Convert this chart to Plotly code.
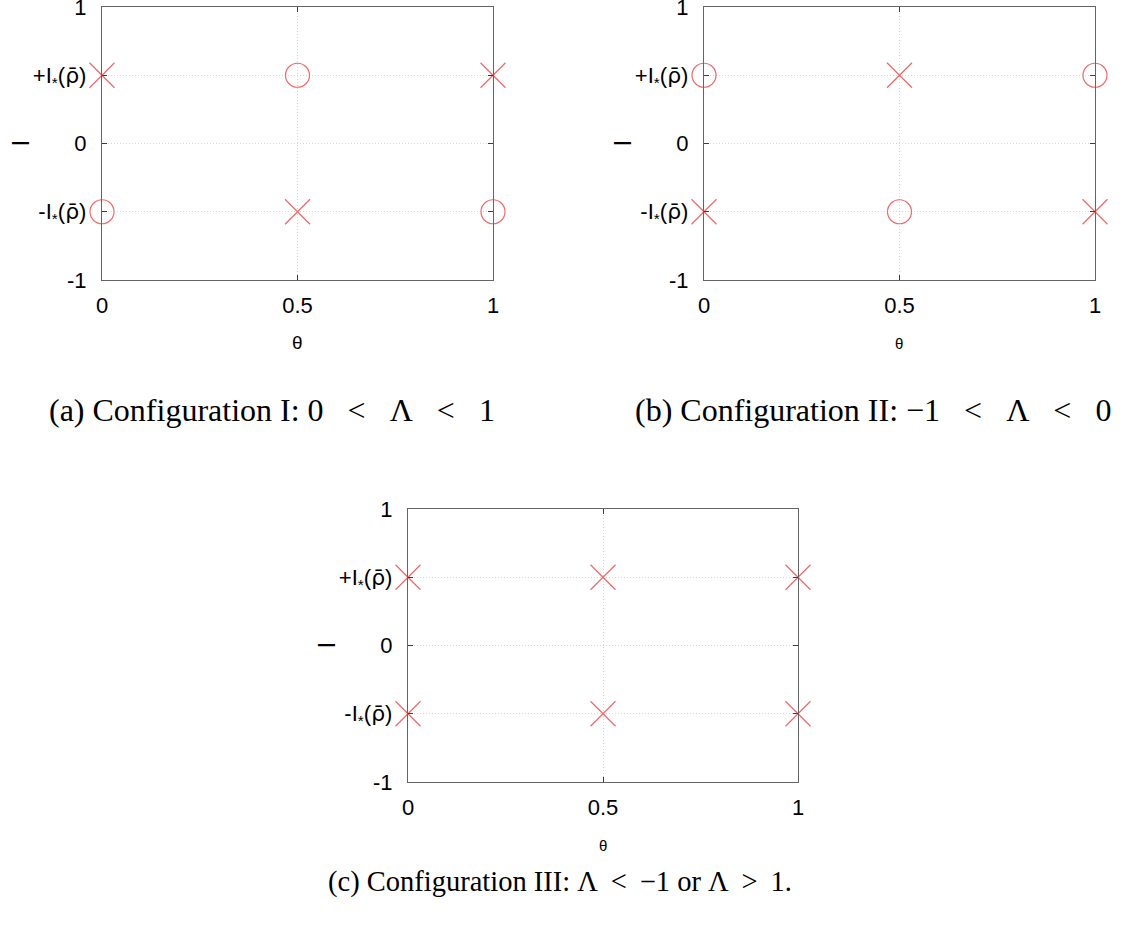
import plotly.graph_objects as go

# Level of the two fixed points on the I axis, in units of the axis range
I_STAR = 0.5

theta_ticks = [0, 0.5, 1]
theta_ticktext = ["0", "0.5", "1"]
RHO_BAR = "<span style='font-family:DejaVu Sans'>ρ\u0304</span>"
i_ticks = [-1, -I_STAR, 0, I_STAR, 1]
i_ticktext = ["-1", "-I<sub>*</sub>(" + RHO_BAR + ")", "0", "+I<sub>*</sub>(" + RHO_BAR + ")", "1"]

# Configuration I: 0 < Λ < 1
cfg1_cross_theta = [0, 1, 0.5]
cfg1_cross_i = [I_STAR, I_STAR, -I_STAR]
cfg1_circle_theta = [0.5, 0, 1]
cfg1_circle_i = [I_STAR, -I_STAR, -I_STAR]

# Configuration II: -1 < Λ < 0
cfg2_cross_theta = [0.5, 0, 1]
cfg2_cross_i = [I_STAR, -I_STAR, -I_STAR]
cfg2_circle_theta = [0, 1, 0.5]
cfg2_circle_i = [I_STAR, I_STAR, -I_STAR]

# Configuration III: Λ < -1 or Λ > 1
cfg3_cross_theta = [0, 0.5, 1, 0, 0.5, 1]
cfg3_cross_i = [I_STAR, I_STAR, I_STAR, -I_STAR, -I_STAR, -I_STAR]
cfg3_circle_theta = []
cfg3_circle_i = []

SP = "\u2002 "   # wide gap around relations
SPT = "\u2009 "  # narrower gap
captions = [
    "(a) Configuration I: 0" + SP + "&lt;" + SP + "Λ" + SP + "&lt;" + SP + "1",
    "(b) Configuration II: −1" + SP + "&lt;" + SP + "Λ" + SP + "&lt;" + SP + "0",
    "(c) Configuration III: Λ" + SPT + "&lt;" + SPT + "−1 or Λ" + SPT + "&gt;" + SPT + "1.",
]

MARK = "rgb(240,105,105)"
W, H = 1122, 936
SANS = "Liberation Sans, Arial, sans-serif"

# panel boxes in pixels: left, right, top, bottom
panels = [
    (102, 493, 7, 280),
    (704, 1095, 7, 280),
    (408, 798, 509, 782),
]
data = [
    (cfg1_cross_theta, cfg1_cross_i, cfg1_circle_theta, cfg1_circle_i),
    (cfg2_cross_theta, cfg2_cross_i, cfg2_circle_theta, cfg2_circle_i),
    (cfg3_cross_theta, cfg3_cross_i, cfg3_circle_theta, cfg3_circle_i),
]
caption_pos = [(272, 410), (873, 410), (560, 882)]
caption_size = [32, 32, 28.5]
theta_title = [(19, 62), (15, 63), (15, 63)]  # font size, offset below the frame

fig = go.Figure()
tick_font = dict(family=SANS, size=22, color="black")

for k, ((l, r, t, b), (xt, yt, xc, yc)) in enumerate(zip(panels, data)):
    n = "" if k == 0 else str(k + 1)
    xa, ya = "x" + n, "y" + n
    fig.add_trace(go.Scatter(
        x=xt, y=yt, xaxis=xa, yaxis=ya, mode="markers", cliponaxis=False,
        marker=dict(symbol="x-thin-open", size=25, color=MARK,
                    line=dict(color=MARK, width=1.2)),
        showlegend=False, hoverinfo="skip"))
    if xc:
        fig.add_trace(go.Scatter(
            x=xc, y=yc, xaxis=xa, yaxis=ya, mode="markers", cliponaxis=False,
            marker=dict(symbol="circle-open", size=24, color=MARK,
                        line=dict(color=MARK, width=1.2)),
            showlegend=False, hoverinfo="skip"))

    axis_common = dict(
        showline=True, linecolor="rgb(100,100,100)", linewidth=1.3, mirror="allticks",
        ticks="inside", ticklen=5, tickcolor="rgb(60,60,60)", tickwidth=1,
        showgrid=True, gridcolor="rgb(215,215,215)", griddash="1px,2px", gridwidth=1,
        zeroline=False, tickfont=tick_font, fixedrange=True, automargin=False,
        ticklabeloverflow="allow",
    )
    fig.update_layout(**{
        ("xaxis" + n): dict(
            axis_common, domain=[l / W, r / W], range=[0, 1], anchor=ya,
            tickvals=theta_ticks, ticktext=theta_ticktext, ticklabelstandoff=5),
        ("yaxis" + n): dict(
            axis_common, domain=[1 - b / H, 1 - t / H], range=[-1, 1], anchor=xa,
            tickvals=i_ticks, ticktext=i_ticktext, ticklabelstandoff=10),
    })

    # axis titles
    fig.add_annotation(x=(l - 82) / W, y=1 - ((t + b) / 2) / H, xref="paper", yref="paper",
                       xanchor="center", yanchor="middle",
                       text="I", textangle=-90, showarrow=False,
                       font=dict(family=SANS, size=24, color="black"))
    fs, off = theta_title[k]
    fig.add_annotation(x=((l + r) / 2) / W, y=1 - (b + off) / H, xref="paper", yref="paper",
                       xanchor="center", yanchor="middle",
                       text="θ", showarrow=False,
                       font=dict(family=SANS, size=fs, color="black"))

for txt, (cx, cy), fs in zip(captions, caption_pos, caption_size):
    fig.add_annotation(x=cx / W, y=1 - cy / H, xref="paper", yref="paper",
                       xanchor="center", yanchor="middle",
                       text=txt, showarrow=False,
                       font=dict(family="Liberation Serif, DejaVu Serif, serif", size=fs, color="black"))

fig.update_layout(width=W, height=H, margin=dict(l=0, r=0, t=0, b=0, pad=0),
                  paper_bgcolor="white", plot_bgcolor="white")

fig.write_html("out.html", config={"displayModeBar": False},
               post_script="document.body.style.margin='0';")
